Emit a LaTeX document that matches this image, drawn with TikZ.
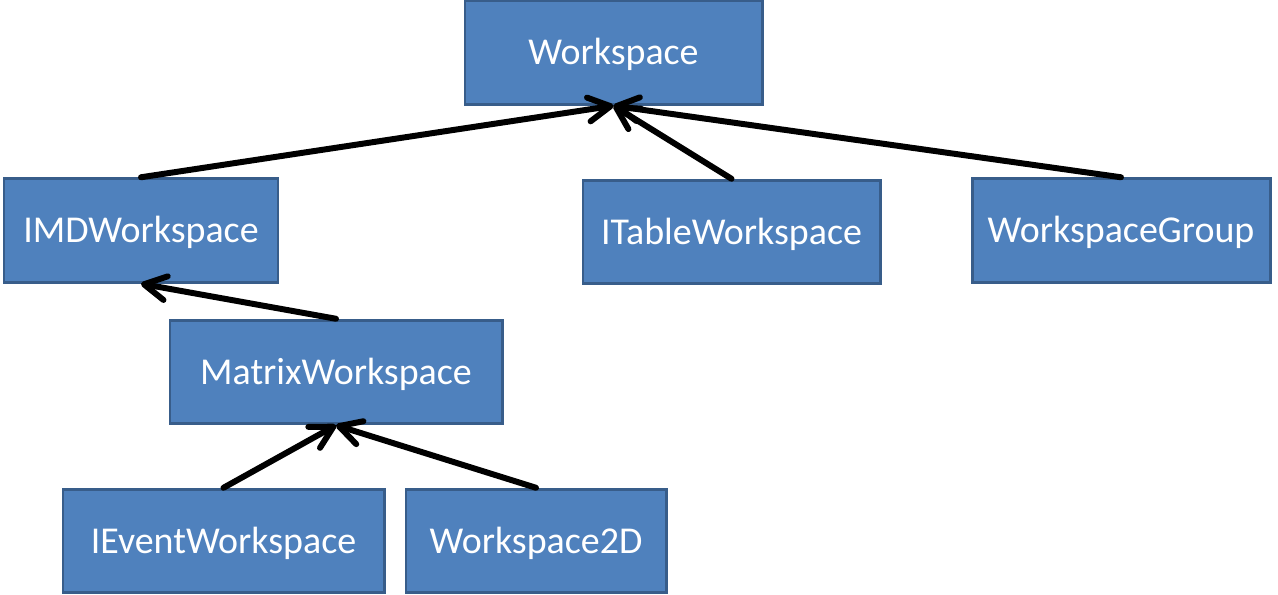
\documentclass[tikz,border=0pt]{standalone}
\usepackage{fontspec}
\setmainfont{Carlito}
\usetikzlibrary{arrows.meta}
\definecolor{boxfill}{HTML}{4F81BD}
\definecolor{boxline}{HTML}{385D8A}
\begin{document}
\begin{tikzpicture}[x=0.02cm,y=-0.02cm,
  cls/.style={draw=boxline,fill=boxfill,line width=1.7pt,text=white,
    font=\fontsize{21.6}{26}\selectfont,inner sep=0pt,
    text height=13.9pt,text depth=0pt,minimum height=2.07cm},
  inherit/.style={line width=3.4pt,line cap=round,
    -{Straight Barb[length=4.4mm,width=4.8mm,round]}}]
\pgfmathsetmacro{\u}{0.02}
\useasboundingbox (0,0) rectangle (1278,595);
\node[cls,minimum width=\u*297cm](ws) at (613.5,52.5){Workspace};
\node[cls,minimum width=\u*274cm](imd) at (141,230.5){IMDWorkspace};
\node[cls,minimum width=\u*297cm](itab) at (731.5,232){ITableWorkspace};
\node[cls,minimum width=\u*298cm](grp) at (1121,230.5){WorkspaceGroup};
\node[cls,minimum width=\u*332cm](mat) at (336,372){MatrixWorkspace};
\node[cls,minimum width=\u*321cm](evt) at (223.5,541){IEventWorkspace};
\node[cls,minimum width=\u*260cm](w2d) at (536,541){Workspace2D};
%arrows
\draw[inherit](imd.north)--(ws.south);
\draw[inherit](itab.north)--(ws.south);
\draw[inherit](grp.north)--(ws.south);
\draw[inherit](mat.north)--(imd.south);
\draw[inherit](evt.north)--(mat.south);
\draw[inherit](w2d.north)--(mat.south);
\end{tikzpicture}
\end{document}
